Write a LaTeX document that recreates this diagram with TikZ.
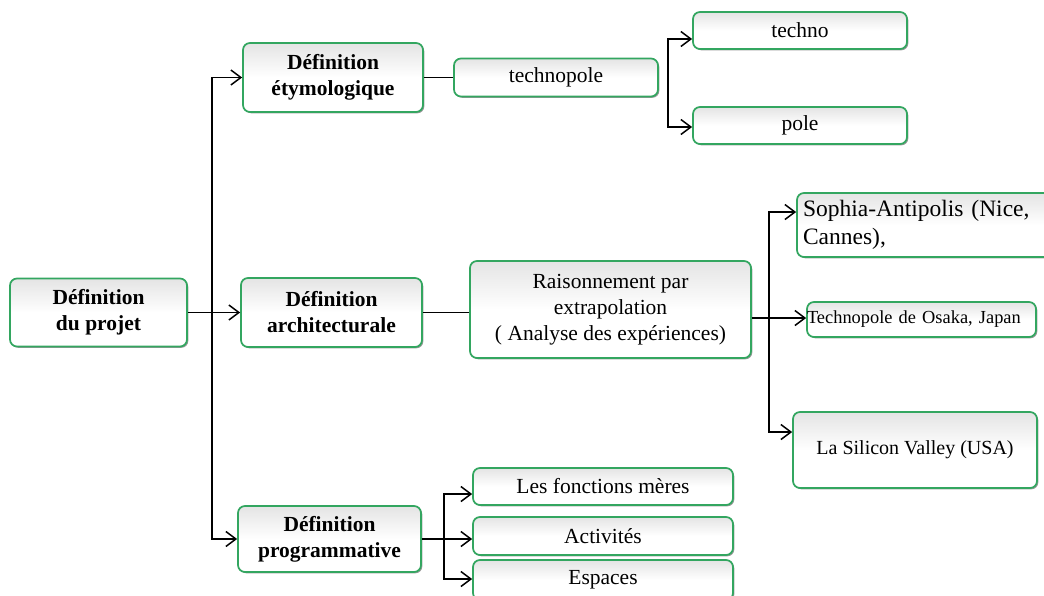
\documentclass[tikz,border=0pt]{standalone}
\usepackage{fontspec}
\setmainfont{Liberation Serif}
\usetikzlibrary{arrows.meta, positioning, shadows, calc}
\definecolor{dfGreen}{HTML}{33A660}
\definecolor{dfShade}{HTML}{E4E4E4}

\tikzset{
  dfbox/.style={draw=dfGreen, line width=1.7pt, rounded corners=7pt,
    top color=dfShade, bottom color=white, middle color=white,
    drop shadow={shadow xshift=1.3pt, shadow yshift=-1.3pt, fill=black, opacity=0.4},
    inner sep=0pt, align=center, font=\fontsize{21.5}{26}\selectfont},
  dfbold/.style={dfbox, font=\bfseries\fontsize{21.5}{26}\selectfont},
  dflink/.style={line width=1.5pt, black},
  dfarrow/.style={dflink, -{Straight Barb[length=10pt,width=15pt]}}
}

\begin{document}
\begin{tikzpicture}[x=1pt, y=-1pt]
  \useasboundingbox (0,0) rectangle (1044,595);

  % level 1 and 2
  \node[dfbold, minimum width=177pt, minimum height=68pt] (root) at (98.5,312.5) {Définition\\du projet};
  \node[dfbold, minimum width=180pt, minimum height=69pt] (etym) at (333,77.5) {Définition\\étymologique};
  \node[dfbold, minimum width=181pt, minimum height=69pt] (archi) at (331.5,312.5) {Définition\\architecturale};
  \node[dfbold, minimum width=183pt, minimum height=66pt] (prog) at (329.5,539) {Définition\\programmative};

  % etymologique
  \node[dfbox, minimum width=204pt, minimum height=38pt] (tpole) at (556,77.5) {technopole};
  \node[dfbox, minimum width=214pt, minimum height=37pt] (techno) at (800,30.5) {techno};
  \node[dfbox, minimum width=214pt, minimum height=37pt] (pole) at (800,125.5) {pole};

  % architecturale
  \node[dfbox, minimum width=281pt, minimum height=97pt] (raison) at (610.5,309.5)
    {Raisonnement par\\extrapolation\\( Analyse des expériences)};
  \node[dfbox, text width=250pt, inner xsep=6pt, minimum height=64pt, align=left,
        font=\fontsize{23.5}{28}\selectfont] (sophia) at (928,225)
    {Sophia-Antipolis (Nice,\\Cannes),};
  \node[dfbox, text width=229pt, minimum height=35pt, align=left,
        font=\fontsize{18.4}{22}\selectfont] (osaka) at (921.5,319.5)
    {Technopole de Osaka, Japan};
  \node[dfbox, minimum width=244pt, minimum height=76pt,
        font=\fontsize{20}{24}\selectfont] (silicon) at (915,450)
    {\raisebox{-7pt}{La Silicon Valley (USA)}};

  % programmative
  \node[dfbox, minimum width=260pt, minimum height=37pt] (meres) at (603,486.5) {Les fonctions mères};
  \node[dfbox, minimum width=260pt, minimum height=38pt] (activ) at (603,536) {Activités};
  \node[dfbox, minimum width=260pt, minimum height=40pt] (espaces) at (603,580) {Espaces};

  % connectors
  \coordinate (rootFork) at ($(root.east)+(24,0)$);
  \draw[dfarrow] (root.east) -- (archi.west);
  \draw[dfarrow] (rootFork) |- (etym.west);
  \draw[dfarrow] (rootFork) |- (prog.west);

  \draw[dflink] (etym.east) -- (etym.east -| tpole.west);
  \coordinate (tpoleFork) at ($(tpole.east)+(9,0)$);
  \coordinate (technoIn) at ($(techno.west)+(0,8.5)$);
  \coordinate (poleIn) at ($(pole.west)+(0,1.5)$);
  \draw[dfarrow] (tpoleFork) |- (technoIn);
  \draw[dfarrow] (tpoleFork) |- (poleIn);

  \draw[dflink] (archi.east) -- (archi.east -| raison.west);
  \coordinate (raisonFork) at ($(raison.east)+(17,0)$);
  \coordinate (sophiaIn) at ($(sophia.west)+(0,-13)$);
  \coordinate (osakaIn) at ($(osaka.west)+(0,-1.5)$);
  \coordinate (siliconIn) at ($(silicon.west)+(0,-18)$);
  \draw[dfarrow] (raisonFork) |- (sophiaIn);
  \draw[dfarrow] (raisonFork) |- (siliconIn);
  \draw[dfarrow] (osakaIn -| raison.east) -- (osakaIn);

  \coordinate (progFork) at ($(prog.east)+(22,0)$);
  \coordinate (meresIn) at ($(meres.west)+(0,7.5)$);
  \coordinate (espacesIn) at ($(espaces.west)+(0,-1)$);
  \draw[dfarrow] (prog.east) -- (prog.east -| activ.west);
  \draw[dfarrow] (progFork) |- (meresIn);
  \draw[dfarrow] (progFork) |- (espacesIn);
\end{tikzpicture}
\end{document}
